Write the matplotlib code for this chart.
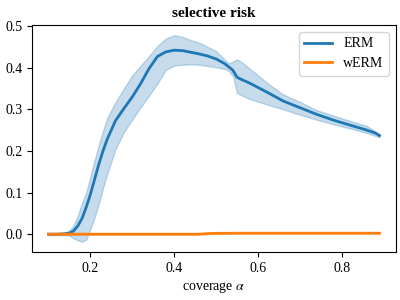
import numpy as np
import matplotlib
matplotlib.use("Agg")
import matplotlib.pyplot as plt

plt.rcParams['font.family'] = ['Liberation Serif', 'DejaVu Serif']
plt.rcParams['mathtext.fontset'] = 'stix'

# coverage grid
coverage = [0.10, 0.12, 0.14, 0.15, 0.16, 0.17, 0.18, 0.19, 0.20, 0.21, 0.22, 0.23,
            0.24, 0.26, 0.28, 0.30, 0.32, 0.34, 0.36, 0.38, 0.40, 0.42, 0.44, 0.46,
            0.48, 0.50, 0.52, 0.53, 0.54, 0.55, 0.56, 0.58, 0.62, 0.66, 0.70, 0.74,
            0.78, 0.82, 0.86, 0.88, 0.89]

erm_mean = [0.0, 0.0, 0.001, 0.003, 0.008, 0.020, 0.038, 0.065, 0.096, 0.132, 0.168, 0.200,
            0.228, 0.273, 0.302, 0.330, 0.362, 0.398, 0.427, 0.438, 0.442, 0.441, 0.437, 0.433,
            0.428, 0.421, 0.410, 0.402, 0.394, 0.377, 0.372, 0.363, 0.342, 0.320, 0.304, 0.288,
            0.274, 0.262, 0.250, 0.243, 0.237]

erm_upper = [0.002, 0.002, 0.004, 0.008, 0.022, 0.045, 0.075, 0.100, 0.140, 0.178, 0.215, 0.248,
             0.279, 0.318, 0.350, 0.382, 0.405, 0.428, 0.452, 0.470, 0.478, 0.474, 0.466, 0.460,
             0.450, 0.440, 0.420, 0.410, 0.415, 0.420, 0.414, 0.398, 0.365, 0.336, 0.318, 0.298,
             0.285, 0.272, 0.260, 0.247, 0.240]

erm_lower = [-0.002, -0.002, -0.002, -0.004, -0.010, -0.015, -0.018, -0.013, 0.012, 0.040, 0.073, 0.110,
             0.144, 0.205, 0.245, 0.276, 0.305, 0.333, 0.362, 0.395, 0.405, 0.407, 0.408, 0.407,
             0.404, 0.401, 0.397, 0.392, 0.380, 0.339, 0.334, 0.325, 0.312, 0.300, 0.287, 0.275,
             0.264, 0.254, 0.243, 0.236, 0.233]

werm_mean = [0.0] * 24 + [0.0015, 0.002, 0.0022, 0.0022, 0.0022, 0.0023, 0.0023, 0.0023,
                          0.0023, 0.0023, 0.0023, 0.0023, 0.0023, 0.0023, 0.0023, 0.0023, 0.0023]
werm_upper = [v + 0.001 for v in werm_mean]
werm_lower = [v - 0.001 for v in werm_mean]

fig = plt.figure(figsize=(4, 3), dpi=100)
ax = fig.add_axes([0.08, 0.16, 0.91, 0.757])

ax.plot(coverage, erm_mean, color='C0', lw=2, label='ERM')
ax.fill_between(coverage, erm_lower, erm_upper, color='C0', alpha=0.25)
ax.plot(coverage, werm_mean, color='C1', lw=2, label='wERM')
ax.fill_between(coverage, werm_lower, werm_upper, color='C1', alpha=0.25)

ax.set_title('selective risk', fontweight='bold', fontsize=11)
ax.set_xlabel(r'coverage $\alpha$', fontsize=10)
ax.set_xticks([0.2, 0.4, 0.6, 0.8])
ax.set_yticks([0.0, 0.1, 0.2, 0.3, 0.4, 0.5])
ax.tick_params(labelsize=10)
ax.legend(loc='upper right', fontsize=10)

fig.savefig('out.png', dpi=100)
